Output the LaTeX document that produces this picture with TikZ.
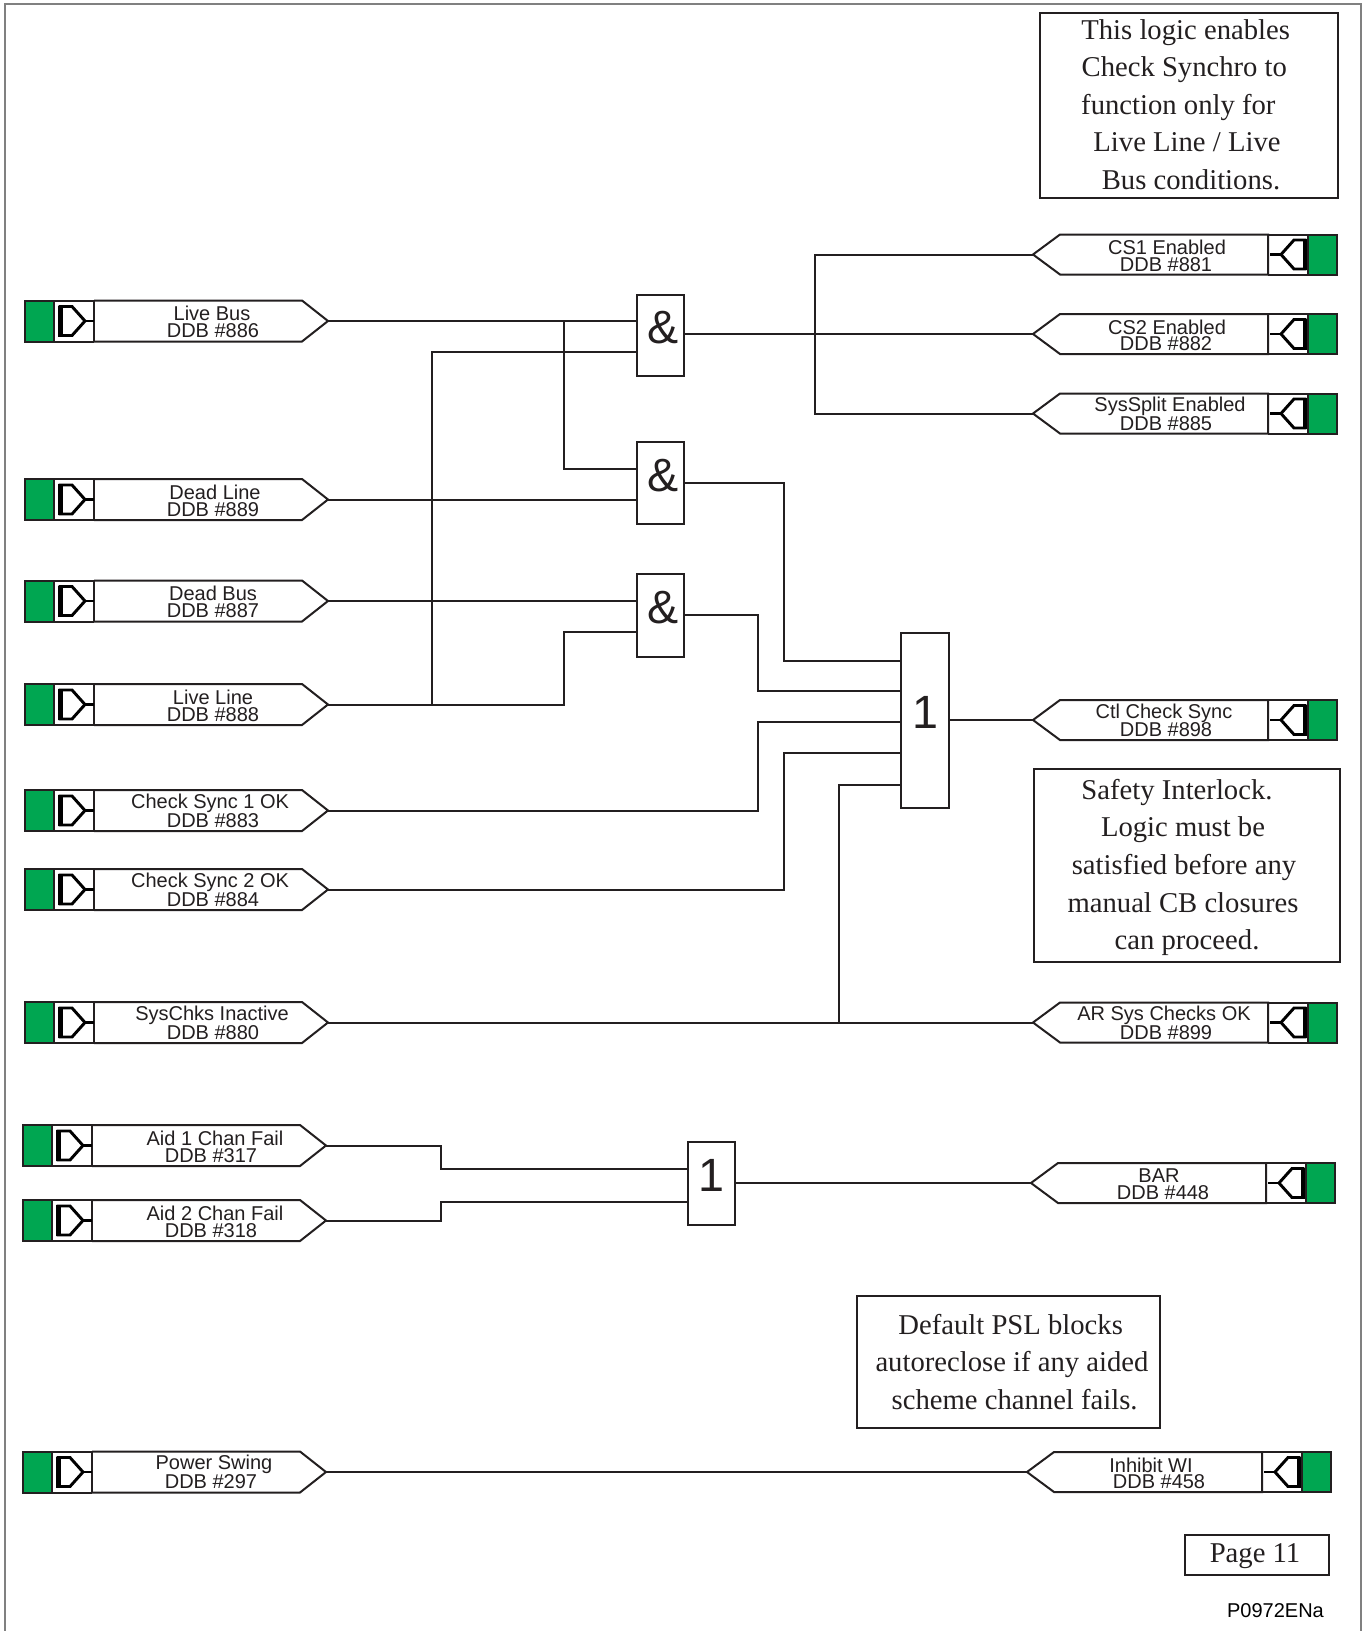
\documentclass[tikz,border=0pt]{standalone}
\usepackage{fontspec}
\setmainfont{Liberation Serif}
\newfontfamily\sigfont{Liberation Sans}
\definecolor{sigink}{HTML}{231F20}
\definecolor{siggreen}{HTML}{00A651}
\definecolor{pageedge}{HTML}{808080}
\tikzset{
  wire/.style={draw=sigink,line width=1.5pt,line cap=butt,line join=miter},
  heavywire/.style={draw=sigink,line width=2pt},
  outline/.style={draw=sigink,line width=1.5pt,line join=miter},
  thinline/.style={draw=sigink,line width=0.9pt},
  glyph/.style={draw=black,line width=2.2pt,line join=miter},
  glyphbar/.style={draw=black,line width=3.4pt},
  greenbox/.style={fill=siggreen,draw=sigink,line width=1.5pt},
  siglabel/.style={font=\sigfont\fontsize{15}{15}\selectfont,text=sigink,inner sep=0pt,anchor=center},
  gatebox/.style={rectangle,draw=sigink,line width=1.5pt,fill=white,inner sep=0pt,minimum width=35.25pt,
    font=\sigfont\fontsize{35}{35}\selectfont,text=sigink,text height=25pt,text depth=13pt},
  notebox/.style={rectangle,draw=sigink,line width=1.5pt,inner sep=0pt},
  notetext/.style={font=\fontsize{21.5}{28.2}\selectfont,text=sigink,align=center,inner sep=0pt},
}
% #1 name, #2 x shift, #3 y centre, #4 line1, #5 x1, #6 line2, #7 x2
\newcommand{\insig}[7]{%
  \begin{scope}[shift={(#2,#3)}]
    \fill[white] (54,-20.5) rectangle (302,20.5);
    \draw[greenbox] (25,-20.5) rectangle (54,20.5);
    \draw[outline] (54,-20.5) -- (94,-20.5) (54,20.5) -- (94,20.5);
    \draw[thinline] (94,-20.5) -- (94,20.5);
    \draw[outline] (94,-20.5) -- (302,-20.5) -- (328,0) -- (302,20.5) -- (94,20.5);
    \draw[glyph] (60,-14.5) -- (72,-14.5) -- (85,0) -- (72,14.5) -- (60,14.5) -- cycle;
    \draw[glyphbar] (60.5,-15.5) -- (60.5,15.5);
    \draw[glyph] (85,0) -- (94,0);
    \coordinate (#1) at (328,0);
    \node[siglabel] (#1a) at (#5,-7.5) {#4};
    \node[siglabel] (#1b) at (#7,10) {#6};
  \end{scope}}
% right-hand signal
\newcommand{\outsig}[7]{%
  \begin{scope}[shift={(#2,#3)}]
    \fill[white] (1060,-20) rectangle (1308,20);
    \draw[greenbox] (1308,-20) rectangle (1337,20);
    \draw[outline] (1268,-20) -- (1308,-20) (1268,20) -- (1308,20);
    \draw[outline] (1268,-20) -- (1060,-20) -- (1033,0) -- (1060,20) -- (1268,20) -- cycle;
    \draw[glyph] (1305,-14.5) -- (1294,-14.5) -- (1281,0) -- (1294,14.5) -- (1305,14.5) -- cycle;
    \draw[glyphbar] (1305,-15.5) -- (1305,15.5);
    \draw[glyph] (1281,0) -- (1270,0);
    \coordinate (#1) at (1033,0);
    \node[siglabel] (#1a) at (#5,-7) {#4};
    \node[siglabel] (#1b) at (#7,10) {#6};
  \end{scope}}
\begin{document}
\begin{tikzpicture}[x=0.75pt,y=-0.75pt]
\useasboundingbox (0,0) rectangle (1368,1631);
\fill[white] (0,0) rectangle (1368,1631);
\draw[draw=pageedge,line width=2.2pt] (5,1631) -- (5,4) -- (1361,4) -- (1361,1631);

% inputs
\insig{lb}{0}{321}{Live Bus}{212}{DDB \#886}{213}
\insig{dl}{0}{499.5}{Dead Line}{215}{DDB \#889}{213}
\insig{db}{0}{601}{Dead Bus}{213}{DDB \#887}{213}
\insig{ll}{0}{704.5}{Live Line}{213}{DDB \#888}{213}
\insig{csa}{0}{810.5}{Check Sync 1 OK}{210}{DDB \#883}{213}
\insig{csb}{0}{889.5}{Check Sync 2 OK}{210}{DDB \#884}{213}
\insig{sc}{0}{1022.5}{SysChks Inactive}{212}{DDB \#880}{213}
\insig{aa}{-2}{1145.5}{Aid 1 Chan Fail}{217}{DDB \#317}{213}
\insig{ab}{-2}{1220.5}{Aid 2 Chan Fail}{217}{DDB \#318}{213}
\insig{ps}{-2}{1472}{Power Swing}{216}{DDB \#297}{213}

% outputs
\outsig{oa}{0}{254.5}{CS1 Enabled}{1167}{DDB \#881}{1166}
\outsig{ob}{0}{334}{CS2 Enabled}{1167}{DDB \#882}{1166}
\outsig{oc}{0}{413.5}{SysSplit Enabled}{1170}{DDB \#885}{1166}
\outsig{od}{0}{720}{Ctl Check Sync}{1164}{DDB \#898}{1166}
\outsig{oe}{0}{1022.5}{AR Sys Checks OK}{1164}{DDB \#899}{1166}
\outsig{of}{-2}{1183}{BAR}{1161}{DDB \#448}{1165}
\outsig{og}{-6}{1472}{Inhibit WI}{1157}{DDB \#458}{1165}

% gates
\node[gatebox,minimum height=60.75pt] (and1) at (660,335) {\hspace*{4.5pt}\&};
\node[gatebox,minimum height=61.5pt] (and2) at (660,483) {\hspace*{4.5pt}\&};
\node[gatebox,minimum height=61.9pt] (and3) at (660,615.25) {\hspace*{4.5pt}\&};
\node[gatebox,minimum height=130.9pt,minimum width=36pt] (or1) at (925,720.75) {1};
\node[gatebox,minimum height=62.6pt,minimum width=34.9pt] (or2) at (711.25,1183.75) {1};

% junction helpers
\coordinate (busx) at (564,469);
\coordinate (linex) at (432,351.5);
\coordinate (linexb) at (564,631.5);
\coordinate (fan) at (814.5,334);
\coordinate (stub) at (692,334);
\coordinate (ina) at (784,660.5);
\coordinate (inb) at (758,691);
\coordinate (inc) at (758,722);
\coordinate (ind) at (784,753);
\coordinate (ine) at (838.5,784.5);
\coordinate (orp) at (441,1169);
\coordinate (orq) at (441,1201.5);

% wires
\draw[wire] (lb) -- (lb -| and1.west);
\draw[wire] (lb -| busx) |- (busx -| and2.west);
\draw[wire] (ll) -- (ll -| linexb) -- (linexb) -- (linexb -| and3.west);
\draw[wire] (ll -| linex) -- (linex) -- (linex -| and1.west);
\draw[wire] (dl) -- (dl -| and2.west);
\draw[wire] (db) -- (db -| and3.west);
\draw[wire] (ob -| and1.east) -- (ob);
\draw[heavywire] (stub) -- (fan);
\draw[wire] (oa) -- (oa -| fan) -- (oc -| fan) -- (oc);
\draw[wire] (and2.east |- 0,482.5) -| (ina) -- (ina -| or1.west);
\draw[wire] (and3.east |- 0,615) -| (inb) -- (inb -| or1.west);
\draw[wire] (csa) -| (inc) -- (inc -| or1.west);
\draw[wire] (csb) -| (ind) -- (ind -| or1.west);
\draw[wire] (sc) -- (oe);
\draw[wire] (sc -| ine) -- (ine) -- (ine -| or1.west);
\draw[wire] (or1.east |- od) -- (od);
\draw[wire] (aa) -| (orp) -- (orp -| or2.west);
\draw[wire] (ab) -| (orq) -- (orq -| or2.west);
\draw[wire] (or2.east |- of) -- (of);
\draw[wire] (ps) -- (og);

% notes
\node[notebox,minimum width=223.5pt,minimum height=138.75pt] (noteA) at (1189,105) {};
\node[notetext] (noteAt) at (1183,104.5) {\hspace*{4pt}This logic enables\\\hspace*{2pt}Check Synchro to\\\hspace*{-7pt}function only for\\\hspace*{6pt}Live Line / Live\\\hspace*{12pt}Bus conditions.};
\node[notebox,minimum width=229.5pt,minimum height=144.75pt] (noteB) at (1187,865.5) {};
\node[notetext] (noteBt) at (1184,867.5) {\hspace*{-10.5pt}Safety Interlock.\\\hspace*{-1.5pt}Logic must be\\satisfied before any\\\hspace*{-1.5pt}manual CB closures\\\hspace*{4.5pt}can proceed.};
\node[notebox,minimum width=227.25pt,minimum height=99pt] (noteC) at (1008.5,1362) {};
\node[notetext] (noteCt) at (1012,1362) {\hspace*{-2pt}Default PSL blocks\\autoreclose if any aided\\\hspace*{4pt}scheme channel fails.};
\node[notebox,minimum width=108pt,minimum height=30pt] (pageb) at (1257,1555) {};
\node[notetext] (paget) at (1255,1556.5) {Page 11};
\node[font=\sigfont\fontsize{15}{15}\selectfont,text=black,inner sep=0pt] (code) at (1275.5,1611) {P0972ENa};
\end{tikzpicture}
\end{document}
